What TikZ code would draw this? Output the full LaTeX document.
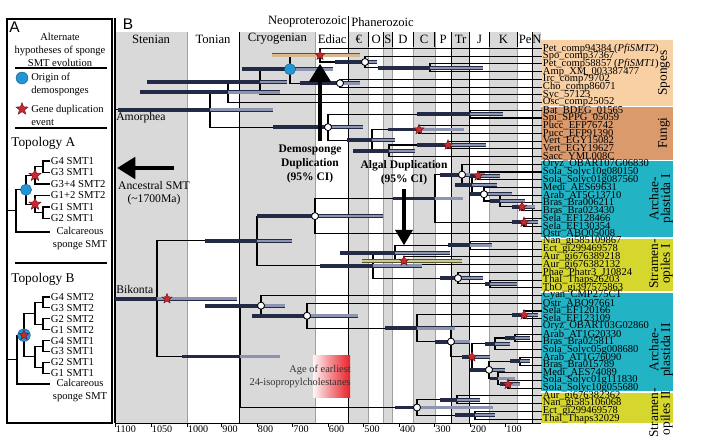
\documentclass[tikz,border=0pt]{standalone}
\usepackage{fontspec}
\setmainfont{Liberation Serif}
\setsansfont{Liberation Sans}
\usepackage{tikz}
\usetikzlibrary{shapes.geometric, arrows.meta}
\usetikzlibrary{calc}
\usetikzlibrary{positioning}

\definecolor{bandgray}{HTML}{D9D9D9}
\definecolor{spongec}{HTML}{F9D0A3}
\definecolor{fungic}{HTML}{DA9A6C}
\definecolor{archc}{HTML}{22B3C4}
\definecolor{stramc}{HTML}{D5D62E}
\definecolor{cifill}{HTML}{8C94B2}
\definecolor{cidark}{HTML}{232A45}
\definecolor{cital}{HTML}{D8B890}
\definecolor{cioliv}{HTML}{C9CC92}
\definecolor{starred}{HTML}{C8282E}
\definecolor{demoblue}{HTML}{2196D4}
\definecolor{agered}{HTML}{E8222A}

% tree node: name, x, first child, second child
\newcommand{\tnode}[4]{%
  \path (#3) -- (#4) coordinate[pos=.5] (#1mid);
  \coordinate (#1) at (#2,0 |- #1mid);
  \draw[branch] (#1) |- (#3);
  \draw[branch] (#1) |- (#4);
}
% 95% interval bar of a node
\newcommand{\cirange}[4][cifill]{%
  \draw[cibar, double=#1] (#3,0 |- #2) -- (#4,0 |- #2);
  \draw[cithick] (#3,0 |- #2) -- (#2);
}

\begin{document}
\begin{tikzpicture}[x=0.025cm, y=-0.025cm,
    branch/.style={line width=0.75pt, black},
    leaf/.style={anchor=west, inner sep=0.5pt, font=\fontsize{7.5}{7.5}\selectfont},
    small leaf/.style={anchor=west, inner sep=0.5pt, font=\fontsize{7.6}{7.6}\selectfont},
    period/.style={inner sep=0pt, font=\fontsize{9}{9}\selectfont},
    grplab/.style={rotate=90, align=center, inner sep=0pt, font=\fontsize{9.5}{8.5}\selectfont},
    atext/.style={inner sep=0pt, font=\fontsize{7.5}{9.2}\selectfont},
    topo/.style={anchor=west, inner sep=0pt, font=\fontsize{9.5}{9.5}\selectfont},
    ann/.style={inner sep=0pt, font=\fontsize{8.3}{9.3}\selectfont},
    annb/.style={inner sep=0pt, align=center, font=\bfseries\fontsize{8.2}{10}\selectfont},
    axlab/.style={anchor=north west, inner sep=0.5pt, font=\fontsize{7.2}{7.2}\selectfont},
    cibar/.style={draw=cidark, line width=0.45pt, double distance=1.8pt},
    cithick/.style={draw=cidark, line width=2.4pt},
    dupstar/.style={star, star points=5, star point ratio=2.3, fill=starred,
        draw=black!50!starred, line width=0.3pt, inner sep=0pt, minimum size=7.5pt},
    calnode/.style={circle, fill=white, draw=black, line width=0.6pt, inner sep=0pt,
        minimum size=5pt},
    demonode/.style={circle, fill=demoblue, draw=demoblue!60!black, line width=0.3pt,
        inner sep=0pt, minimum size=8pt},
    bigarrow/.style={line width=3.4pt, -{Triangle[length=13pt, width=15pt]}},
  ]
  \useasboundingbox (0,0) rectangle (701,447);

  % ---------- panel A ----------
  \draw[line width=0.8pt] (7,19) rectangle (112,423);
  \node[anchor=west, inner sep=0pt, font=\sffamily\fontsize{11}{11}\selectfont] (lab_a) at (9,27) {A};
  \node[atext, align=center] (hyp) at (60,50) {Alternate\\hypotheses of sponge\\SMT evolution};
  \draw[line width=1pt] (15,68) -- (107,68);
  \node[demonode, minimum size=8.5pt] (leg_demo) at (22,78) {};
  \node[atext, anchor=west, align=left] (leg_demo_t) at (31,84) {Origin of\\demosponges};
  \node[dupstar, minimum size=9pt] (leg_dup) at (22,109) {};
  \node[atext, anchor=west, align=left] (leg_dup_t) at (31,115) {Gene duplication\\event};
  \draw[line width=1pt] (15,128) -- (107,128);

  \node[topo] (topo_a) at (11,143) {Topology A};
  \foreach \t/\y [count=\i] in {G4 SMT1/161, G3 SMT1/172.5, G3+4 SMT2/184,
      G1+2 SMT2/195.5, G1 SMT1/207, G2 SMT1/218.5}
    { \coordinate (ta\i) at (50,\y); \node[small leaf] (ta\i_t) at (ta\i) {\t}; }
  \coordinate (ta7) at (50,232);
  \node[atext, align=center, anchor=north] (ta7_t) at (80,227) {Calcareous\\sponge SMT};
  \tnode{ta12}{43}{ta1}{ta2}
  \tnode{ta123}{35}{ta12}{ta3}
  \tnode{ta56}{43}{ta5}{ta6}
  \tnode{ta456}{35}{ta4}{ta56}
  \tnode{ta_demo}{26}{ta123}{ta456}
  \tnode{ta_root}{16}{ta_demo}{ta7}
  \coordinate (ta_stub) at (7,0 |- ta_root);
  \draw[branch] (ta_stub) -- (ta_root);
  \node[dupstar, minimum size=9pt] (ta123_star) at (ta123) {};
  \node[dupstar, minimum size=9pt] (ta456_star) at (ta456) {};
  \node[demonode] (ta_demo_mk) at (ta_demo) {};

  \draw[line width=1pt] (15,263) -- (107,263);
  \node[topo] (topo_b) at (11,279) {Topology B};
  \foreach \t/\y [count=\i] in {G4 SMT2/297, G3 SMT2/307.9, G2 SMT2/318.8,
      G1 SMT2/329.7, G4 SMT1/340.6, G3 SMT1/351.5, G2 SMT1/362.4, G1 SMT1/373.3}
    { \coordinate (tb\i) at (50,\y); \node[small leaf] (tb\i_t) at (tb\i) {\t}; }
  \coordinate (tb9) at (50,384);
  \node[atext, align=center, anchor=north] (tb9_t) at (80,379) {Calcareous\\sponge SMT};
  \tnode{tb12}{43}{tb1}{tb2}
  \tnode{tb34}{43}{tb3}{tb4}
  \tnode{tb56}{43}{tb5}{tb6}
  \tnode{tb78}{43}{tb7}{tb8}
  \tnode{tb1234}{35}{tb12}{tb34}
  \tnode{tb5678}{35}{tb56}{tb78}
  \tnode{tb_dup}{24}{tb1234}{tb5678}
  \tnode{tb_root}{17}{tb_dup}{tb9}
  \coordinate (tb_stub) at (7,0 |- tb_root);
  \draw[branch] (tb_stub) -- (tb_root);
  \node[demonode, minimum size=9pt] (tb_dup_mk) at (tb_dup) {};
  \node[dupstar, minimum size=7.5pt] (tb_dup_star) at (tb_dup) {};

  % ---------- panel B: time scale ----------
  \fill[bandgray] (115,32) rectangle (187,423);     % Stenian
  \fill[bandgray] (239.25,32) rectangle (315.6,423); % Cryogenian
  \fill[bandgray] (348.9,32) rectangle (368.7,423);  % Cambrian
  \fill[bandgray] (383.6,32) rectangle (392.2,423);  % Silurian
  \fill[bandgray] (413.6,32) rectangle (434.9,423);  % Carboniferous
  \fill[bandgray] (451.5,32) rectangle (469.5,423);  % Triassic
  \fill[bandgray] (489.5,32) rectangle (517.6,423);  % Cretaceous
  \fill[bandgray] (532.8,32) rectangle (541,423);    % Neogene
  \foreach \x in {187,315.6,368.7,383.6,392.2,413.6,434.9,489.5,517.6}
    \draw[gray!75, line width=0.3pt] (\x,32) -- (\x,423);
  \foreach \x in {368.7,383.6,392.2,413.6,434.9,489.5,517.6}
    \draw[line width=0.6pt] (\x,32) -- (\x,47);
  \foreach \x in {239.25,451.5,469.5,532.8}
    \draw[line width=0.7pt] (\x,32) -- (\x,423);
  \draw[line width=0.7pt] (348.9,16) -- (348.9,423);
  \draw[line width=0.8pt] (115,18) -- (115,423);

  \node[anchor=center, inner sep=0pt, font=\sffamily\fontsize{11}{11}\selectfont] (lab_b) at (128,24) {B};
  \node[period, anchor=east] (neo) at (347,22) {Neoproterozoic};
  \node[period, anchor=west] (phan) at (351,22) {Phanerozoic};
  \foreach \t/\x [count=\i] in {Stenian/151, Tonian/213, Cryogenian/277.4, Ediac/332.2,
      €/358.8, O/376.2, S/387.9, D/402.9, C/424.2, P/443.2, Tr/460.5, J/479.5,
      K/503.5, Pe/525.2, N/536.9}
    \node[period] (per\i) at (\x,39) {\t};

  % axis
  \draw[line width=0.6pt] (115,423) -- (541,423);
  \foreach \v/\x in {1100/115, 1050/151, 1000/187, 900/221.5, 800/257, 700/292.5,
      600/328, 500/363.5, 400/399, 300/434.5, 200/470, 100/505.5}
    { \draw[line width=0.5pt] (\x,423) -- (\x,426.5);
      \node[axlab] (ax\v) at (\x,425) {\v}; }

  % ---------- taxon boxes ----------
  \fill[spongec] (541,40) rectangle (673,106.4);
  \fill[fungic] (541,106.4) rectangle (673,160.5);
  \fill[archc] (541,160.5) rectangle (673,237.7);
  \fill[stramc] (541,237.7) rectangle (673,291.7);
  \fill[archc] (541,291.7) rectangle (673,392);
  \fill[stramc] (541,392) rectangle (673,423);
  \foreach \y in {106.4,160.5,237.7,291.7,392}
    \draw[white, line width=1.2pt] (541,\y) -- (673,\y);

  \foreach \t [count=\i] in {
      {Pet\_comp94384 (\textit{PfiSMT2})}, Spo\_comp37367,
      {Pet\_comp58857 (\textit{PfiSMT1})}, Amp\_XM\_003387477, Irc\_comp79702,
      Cho\_comp86071, Syc\_57123, Osc\_comp25052,
      Bat\_BDEG\_01565, Spi\_SPPG\_05059, Pucc\_EFP76742, Pucc\_EFP91390,
      Vert\_EGY15082, Vert\_EGY19627, Sacc\_YML008C,
      Oryz\_OBART07G06830, Sola\_Solyc10g080150, Sola\_Solyc01g087560,
      Medi\_AES69631, Arab\_AT5G13710, Bras\_Bra006211, Bras\_Bra023430,
      Sela\_EF128466, Sela\_EF130354, Ostr\_ABO05008,
      Nan\_gi585109867, Ect\_gi299469578, Aur\_gi676389218, Aur\_gi676382132,
      Phae\_Phatr3\_J10824, Thal\_Thaps26203, ThO\_gi397575863,
      Cyan\_CMP275CT, Ostr\_ABO97661, Sela\_EF120166, Sela\_EF123109,
      Oryz\_OBART03G02860, Arab\_AT1G20330, Bras\_Bra025811, Sola\_Solyc05g008680,
      Arab\_AT1G76090, Bras\_Bra015789, Medi\_AES74089, Sola\_Solyc01g111830,
      Sola\_Solyc10g055680,
      Aur\_gi676382362, Nan\_gi585106068, Ect\_gi299469578, Thal\_Thaps32029}
    { \coordinate (l\i) at (542,{48.5+7.72*(\i-1)});
      \node[leaf] (t\i) at (l\i) {\t}; }

  \node[grplab] (g_sponges) at (664,73) {Sponges};
  \node[grplab] (g_fungi) at (664,133) {Fungi};
  \node[grplab] (g_arch1) at (661,199) {Archae-\\plastida I};
  \node[grplab] (g_stram1) at (661,264) {Stramen-\\opiles I};
  \node[grplab] (g_arch2) at (661,350) {Archae-\\plastida II};
  \node[grplab] (g_stram2) at (661,413) {Stramen-\\opiles II};

  % ---------- tree ----------
  % sponges
  \tnode{s_b}{430}{l3}{l4}
  \tnode{s_a}{365}{l2}{s_b}
  \tnode{s_dup}{320}{l1}{s_a}
  \tnode{s_c}{340}{l5}{l6}
  \tnode{s_demo}{290}{s_dup}{s_c}
  \tnode{s_x}{260}{s_demo}{l7}
  \tnode{s_all}{228}{s_x}{l8}
  % fungi
  \tnode{f_chy}{470}{l9}{l10}
  \tnode{f_pucc}{419}{l11}{l12}
  \tnode{f_vert}{448}{l13}{l14}
  \tnode{f_asc}{389}{f_vert}{l15}
  \tnode{f_dik}{372}{f_pucc}{f_asc}
  \tnode{f_root}{328}{f_chy}{f_dik}
  \tnode{amorphea}{210}{s_all}{f_root}
  % archaeplastida I
  \tnode{a1_sol}{478}{l17}{l18}
  \tnode{a1_bb}{522}{l21}{l22}
  \tnode{a1_ab}{500}{l20}{a1_bb}
  \tnode{a1_rest}{484}{l19}{a1_ab}
  \tnode{a1_eud}{472}{a1_sol}{a1_rest}
  \tnode{a1_angio}{462}{l16}{a1_eud}
  \tnode{a1_sela}{524}{l23}{l24}
  \tnode{a1_land}{435}{a1_angio}{a1_sela}
  \tnode{a1_root}{315}{a1_land}{l25}
  % stramenopiles I
  \tnode{s1_ne}{470}{l26}{l27}
  \tnode{s1_aur}{404}{l28}{l29}
  \tnode{s1_a}{395}{s1_ne}{s1_aur}
  \tnode{s1_tt}{490}{l31}{l32}
  \tnode{s1_b}{458}{l30}{s1_tt}
  \tnode{s1_root}{373}{s1_a}{s1_b}
  \tnode{clade_one}{257}{a1_root}{s1_root}
  % archaeplastida II
  \tnode{a2_sela}{524}{l35}{l36}
  \tnode{a2_ab}{515}{l38}{l39}
  \tnode{a2_ga}{495}{a2_ab}{l40}
  \tnode{a2_ab2}{520}{l41}{l42}
  \tnode{a2_ss}{508}{l44}{l45}
  \tnode{a2_ms}{498}{l43}{a2_ss}
  \tnode{a2_gb}{489}{a2_ab2}{a2_ms}
  \tnode{a2_eud}{472}{a2_ga}{a2_gb}
  \tnode{a2_angio}{451}{l37}{a2_eud}
  \tnode{a2_land}{417}{a2_sela}{a2_angio}
  \tnode{a2_g}{307}{l34}{a2_land}
  \tnode{a2_root}{261}{l33}{a2_g}
  % stramenopiles II
  \tnode{s2_an}{457}{l46}{l47}
  \tnode{s2_et}{475}{l48}{l49}
  \tnode{s2_root}{417}{s2_an}{s2_et}
  \tnode{clade_two}{240}{a2_root}{s2_root}
  \tnode{bikonta}{157}{clade_one}{clade_two}
  \tnode{root}{115}{amorphea}{bikonta}

  % 95% intervals
  \cirange{amorphea}{118}{273}
  \cirange{s_all}{140}{280}
  \cirange{s_x}{147}{287}
  \cirange{s_demo}{242}{333}
  \draw[cibar, draw=brown!60!black, double=cital] (272,0 |- s_dup) -- (360,0 |- s_dup);
  \cirange{s_a}{335}{377}
  \cirange{s_b}{378}{483}
  \cirange{s_c}{300}{360}
  \cirange{f_root}{273}{363}
  \cirange{f_chy}{417}{503}
  \cirange{f_dik}{347}{395}
  \cirange{f_pucc}{388}{464}
  \cirange{f_asc}{353}{415}
  \cirange{f_vert}{417}{486}
  \cirange{bikonta}{115}{237}
  \cirange{clade_one}{205}{292}
  \cirange{a1_root}{257}{383}
  \cirange{a1_land}{393}{463}
  \cirange{a1_angio}{440}{485}
  \cirange{a1_sol}{470}{500}
  \cirange{a1_eud}{455}{497}
  \cirange{a1_rest}{470}{512}
  \cirange{a1_ab}{490}{525}
  \cirange{a1_bb}{512}{535}
  \cirange{a1_sela}{512}{538}
  \cirange{s1_root}{320}{422}
  \cirange{s1_a}{340}{450}
  \draw[cibar, draw=olive!50!black, double=cioliv] (362,0 |- s1_aur) -- (462,0 |- s1_aur);
  \cirange{s1_ne}{448}{492}
  \cirange{s1_b}{440}{483}
  \cirange{s1_tt}{485}{517}
  \cirange{clade_two}{182}{280}
  \cirange{a2_root}{205}{285}
  \cirange{a2_g}{252}{358}
  \cirange{a2_land}{385}{455}
  \cirange{a2_sela}{512}{538}
  \cirange{a2_angio}{435}{470}
  \cirange{a2_eud}{462}{490}
  \cirange{a2_ga}{485}{510}
  \cirange{a2_ab}{505}{530}
  \cirange{a2_gb}{470}{505}
  \cirange{a2_ab2}{510}{530}
  \cirange{a2_ms}{490}{515}
  \cirange{a2_ss}{500}{520}
  \cirange{s2_root}{395}{493}
  \cirange{s2_an}{440}{480}
  \cirange{s2_et}{455}{495}

  % node marks
  \foreach \n in {s_dup, f_pucc, f_vert, a1_sol, a1_bb, a1_sela, s1_aur, a2_sela, a2_eud, a2_ss}
    \node[dupstar] (\n_star) at (\n) {};
  \node[dupstar] (bik_star) at ($(bikonta)+(10,0)$) {};
  \foreach \n in {s_a, s_c, f_root, a1_angio, a1_rest, a1_root, s1_b, a2_root, a2_g,
      a2_angio, a2_gb, s2_root}
    \node[calnode] (\n_cal) at (\n) {};
  \node[demonode] (demo_mk) at (s_demo) {};

  % ---------- annotations ----------
  \node[ann, anchor=west] (amor_t) at (116,118) {Amorphea};
  \node[ann, anchor=west] (bik_t) at (116,290) {Bikonta};

  \coordinate (anc_from) at (174,168);
  \coordinate (anc_to) at (117,168);
  \draw[bigarrow] (anc_from) -- (anc_to);
  \node[ann, align=center] (anc_t) at (154,193) {Ancestral SMT\\(\textasciitilde1700Ma)};

  \node[annb] (demo_t) at (310,164) {Demosponge\\Duplication\\(95\% CI)};
  \coordinate (demo_from) at (320,141);
  \draw[bigarrow, shorten >=6pt] (demo_from) -- (s_dup);

  \node[annb] (alg_t) at (404,173) {Algal Duplication\\(95\% CI)};
  \coordinate (alg_from) at (404,189);
  \draw[bigarrow, line width=3.2pt, -{Triangle[length=11pt, width=12pt]}, shorten >=11pt] (alg_from) -- (s1_aur);

  \shade[left color=agered!4, right color=agered, middle color=agered!55] (313,355) rectangle (350,397);
  \node[ann, align=right, anchor=east, text=black!80, font=\fontsize{7.4}{9.2}\selectfont] (age_t) at (351,376) {Age of earliest\\24-isopropylcholestanes};
\end{tikzpicture}
\end{document}
